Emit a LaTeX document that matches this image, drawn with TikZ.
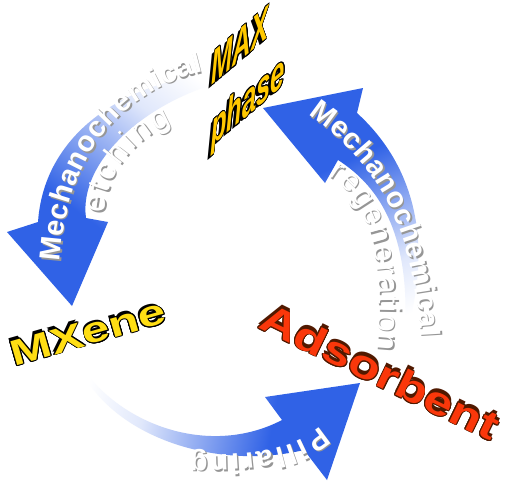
\documentclass[tikz,border=0pt]{standalone}
\usepackage{fontspec}
\usepackage{contour}
\usetikzlibrary{decorations.text}
\newfontfamily\labelfont{Liberation Sans}
\definecolor{arrowblue}{RGB}{48,98,230}
\colorlet{midblue}{arrowblue!60}
\colorlet{paleblue}{arrowblue!15}
\definecolor{shadowgray}{RGB}{150,150,150}
\definecolor{maxgold}{RGB}{255,200,0}
\definecolor{mxyellow}{RGB}{255,222,20}
\definecolor{adsred}{RGB}{250,55,10}
\definecolor{adsdark}{RGB}{80,25,0}
\contourlength{0.7pt}

% blue at the head, white at the tail
\pgfdeclareverticalshading{arrowfade}{100bp}{color(0bp)=(arrowblue); color(40bp)=(arrowblue);
  color(52bp)=(midblue); color(66bp)=(paleblue); color(78bp)=(white); color(100bp)=(white)}

\newcommand\bendbold{\labelfont\bfseries\fontsize{29}{29}\selectfont}
\newcommand\bendplain{\labelfont\fontsize{31}{31}\selectfont}

% baselines of the texts that follow the arrows
\def\etchouter{(60,262) .. controls (66,160) and (118,92) .. (203,72)}
\def\etchinner{(104,214) .. controls (108,172) and (133,140) .. (172,124)}
\def\regenouter{(308,115) .. controls (375,160) and (414,225) .. (420,337)}
\def\regeninner{(328,176) .. controls (370,200) and (385,260) .. (376,350)}
\def\pillarline{(320,426) .. controls (295,450) and (255,456) .. (190,455)}

\tikzset{
  wordart/.style={inner sep=0pt},
  maxfont/.style={wordart, font=\labelfont\bfseries\itshape\fontsize{32}{32}\selectfont, yslant=0.85, xscale=0.8, yscale=1.45},
  along/.style 2 args={decorate, decoration={text along path, text align={fit to path}, text={|#1|#2}}},
  shadowed/.style={xshift=1.5pt, yshift=-1.5pt},
}

\begin{document}
\begin{tikzpicture}[x=1pt,y=-1pt]
  \fill[white] (0,0) rectangle (513,499);
  \useasboundingbox (0,0) rectangle (513,499);

  % arrows
  \shade[shading=arrowfade, shading angle=-37]
    (242,74) .. controls (150,70) and (45,120) .. (38,222) -- (7,232) -- (72,306) -- (108,222)
    -- (86,218) .. controls (78,160) and (150,95) .. (242,77) -- cycle;
  \shade[shading=arrowfade, shading angle=205]
    (407,330) .. controls (428,260) and (425,175) .. (357,113) -- (363,88) -- (263,108) -- (325,183)
    -- (338,160) .. controls (377,185) and (410,230) .. (405,330) -- cycle;
  \shade[shading=arrowfade, shading angle=79]
    (85,372) .. controls (130,430) and (215,455) .. (282,420) -- (265,397) -- (360,383) -- (327,480)
    -- (304,450) .. controls (220,470) and (120,440) .. (83,374) -- cycle;

  % texts on the arrows
  \path[shadowed, along={\bendbold\color{shadowgray}}{Mechanochemical}] \etchouter;
  \path[along={\bendbold\color{white}}{Mechanochemical}] \etchouter;
  \path[shadowed, along={\bendplain\color{shadowgray}}{etching}] \etchinner;
  \path[along={\bendplain\color{white}}{etching}] \etchinner;
  \path[shadowed, along={\bendbold\color{shadowgray}}{Mechanochemical}] \regenouter;
  \path[along={\bendbold\color{white}}{Mechanochemical}] \regenouter;
  \path[shadowed, along={\bendplain\color{shadowgray}}{regeneration}] \regeninner;
  \path[along={\bendplain\color{white}}{regeneration}] \regeninner;
  \path[shadowed, along={\bendbold\color{shadowgray}}{Pillaring}] \pillarline;
  \path[along={\bendbold\color{white}}{Pillaring}] \pillarline;

  % the three materials
  \node[maxfont, text=black] (maxdepth) at (237,49) {MAX};
  \node[maxfont, text=maxgold] (max) at (240,46) {\contour{black}{MAX}};
  \node[maxfont, text=black] (phasedepth) at (245,107) {phase};
  \node[maxfont, text=maxgold] (phase) at (248,104) {\contour{black}{phase}};

  \node[wordart, font=\labelfont\bfseries\fontsize{36}{36}\selectfont, text=black, rotate=16, xscale=1.38] (mxdepth) at (86,330) {MXene};
  \node[wordart, font=\labelfont\bfseries\fontsize{36}{36}\selectfont, text=mxyellow, rotate=16, xscale=1.38] (mxene) at (88,333) {\contour{black}{MXene}};

  \node[wordart, font=\labelfont\bfseries\fontsize{40}{40}\selectfont, text=adsdark, rotate=-26, xscale=1.3] (adsdepth) at (381,368) {Adsorbent};
  \node[wordart, font=\labelfont\bfseries\fontsize{40}{40}\selectfont, text=adsred, rotate=-26, xscale=1.3] (adsorbent) at (380,372) {\contour{adsdark}{Adsorbent}};
\end{tikzpicture}
\end{document}
